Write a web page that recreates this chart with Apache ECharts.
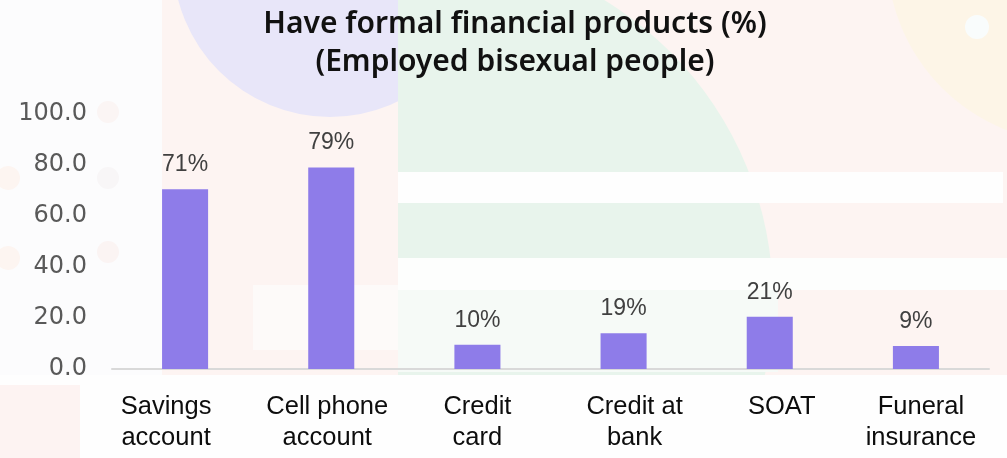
<!DOCTYPE html>
<html>
<head>
<meta charset="utf-8">
<script src="https://cdn.jsdelivr.net/npm/echarts@6/dist/echarts.min.js"></script>
<style>
  html, body { margin: 0; padding: 0; background: #fff; }
  #chart { width: 1007px; height: 458px; }
</style>
</head>
<body>
<div id="chart"></div>
<script>
const categories = [
  "Savings\naccount",
  "Cell phone\naccount",
  "Credit\ncard",
  "Credit at\nbank",
  "SOAT",
  "Funeral\ninsurance",
];
// bar heights as drawn in the picture
const barValues = [70.5, 79, 9.5, 14, 20.5, 9];
// labels as printed above the bars
const barLabels = ["71%", "79%", "10%", "19%", "21%", "9%"];
const yTicks = [0, 20, 40, 60, 80, 100];

// the category labels in the source are not quite centred under the bars
const labelNudge = [-19, -4, 0, 11, 12, 5];

// faded decorative backdrop
const bg = [
  { type: "rect", shape: { x: 0, y: 0, width: 1007, height: 458 }, style: { fill: "#fdf4f2" } },
  { type: "circle", shape: { cx: 422, cy: 300, r: 351 }, style: { fill: "#e8f4ec" } },
  { type: "rect", shape: { x: 0, y: 0, width: 398, height: 458 }, style: { fill: "#fdf4f2" } },
  { type: "rect", shape: { x: 0, y: 0, width: 162, height: 458 }, style: { fill: "#fcfcfd" } },
  { type: "circle", shape: { cx: 330, cy: -40, r: 157 }, style: { fill: "#e8e6f9" } },
  { type: "rect", shape: { x: 398, y: 0, width: 110, height: 160 }, style: { fill: "#e8f4ec" } },
  { type: "circle", shape: { cx: 1075, cy: -45, r: 188 }, style: { fill: "#fdf5e7" } },
  { type: "circle", shape: { cx: 977, cy: 27, r: 12 }, style: { fill: "#f9fcfc" } },
  { type: "rect", shape: { x: 398, y: 172, width: 605, height: 31 }, style: { fill: "#fefefe" } },
  { type: "rect", shape: { x: 398, y: 258, width: 609, height: 32 }, style: { fill: "#fdfefd" } },
  { type: "rect", shape: { x: 398, y: 290, width: 380, height: 82 }, style: { fill: "#f6faf7" } },
  { type: "rect", shape: { x: 253, y: 285, width: 145, height: 65 }, style: { fill: "#fdfaf9" } },
  { type: "rect", shape: { x: 0, y: 375, width: 1007, height: 83 }, style: { fill: "#fefefe" } },
  { type: "rect", shape: { x: 0, y: 385, width: 80, height: 73 }, style: { fill: "#fdf3f2" } },
  { type: "circle", shape: { cx: 8, cy: 178, r: 12 }, style: { fill: "#fdf5f1" } },
  { type: "circle", shape: { cx: 8, cy: 258, r: 12 }, style: { fill: "#fdf5f1" } },
  { type: "circle", shape: { cx: 108, cy: 112, r: 11 }, style: { fill: "#fbf5f4" } },
  { type: "circle", shape: { cx: 108, cy: 178, r: 11 }, style: { fill: "#f8f6f7" } },
  { type: "circle", shape: { cx: 108, cy: 252, r: 11 }, style: { fill: "#fbf4f3" } },
].map((el) => ({ ...el, z: -10, silent: true }));

const xData = categories.map((name, i) => {
  const n = labelNudge[i];
  return {
    value: name,
    textStyle: { padding: n < 0 ? [0, -2 * n, 0, 0] : [0, 0, 0, 2 * n] },
  };
});

const chart = echarts.init(document.getElementById("chart"));
chart.setOption({
  animation: false,
  graphic: bg,
  title: {
    text: "Have formal financial products (%)\n(Employed bisexual people)",
    left: 510,
    textAlign: "center",
    top: 0,
    textStyle: {
      fontFamily: "Noto Sans",
      fontWeight: 600,
      fontSize: 30,
      lineHeight: 38,
      color: "#111",
    },
  },
  grid: { left: 112, right: 18, top: 114, bottom: 89 },
  xAxis: {
    type: "category",
    data: xData,
    axisLine: { lineStyle: { color: "#d9d9d9", width: 2 } },
    axisTick: { show: false },
    axisLabel: {
      interval: 0,
      margin: 22,
      color: "#0d0d0d",
      fontFamily: "Liberation Sans",
      fontSize: 25.5,
      lineHeight: 31,
    },
  },
  yAxis: {
    type: "value",
    min: yTicks[0],
    max: yTicks[yTicks.length - 1],
    interval: 20,
    splitLine: { show: false },
    axisLine: { show: false },
    axisTick: { show: false },
    axisLabel: {
      margin: 25,
      color: "#595959",
      fontFamily: "DejaVu Sans",
      fontSize: 24,
      formatter: (v) => v.toFixed(1),
    },
  },
  series: [
    {
      type: "bar",
      data: barValues,
      barWidth: "31.5%",
      itemStyle: { color: "#8e7ce9" },
      label: {
        show: true,
        position: "top",
        distance: 13,
        color: "#404040",
        fontFamily: "Liberation Sans",
        fontSize: 23,
        formatter: (p) => barLabels[p.dataIndex],
      },
    },
  ],
});
</script>
</body>
</html>
